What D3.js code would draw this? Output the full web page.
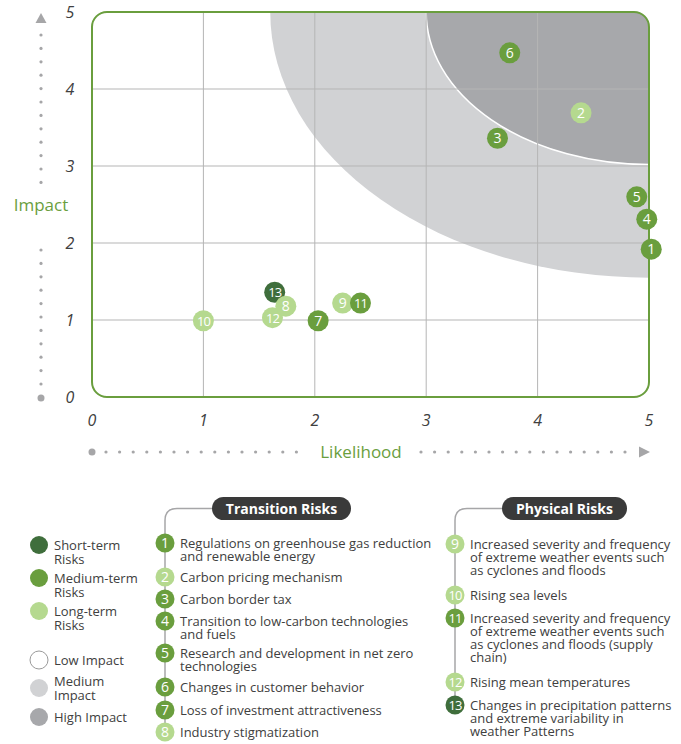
<!DOCTYPE html>
<html>
<head>
<meta charset="utf-8">
<script src="https://cdn.jsdelivr.net/npm/d3@7"></script>
<style>
  body { margin: 0; background: #fff; }
  svg text { font-family: "Open Sans", sans-serif; }
</style>
</head>
<body>
<script>
// data
var riskIds = [1, 2, 3, 4, 5, 6, 7, 8, 9, 10, 11, 12, 13],
    likelihood = [5.02, 4.39, 3.64, 4.98, 4.89, 3.75, 2.03, 1.74, 2.25, 1.0, 2.41, 1.62, 1.64],
    impact = [1.92, 3.69, 3.36, 2.31, 2.6, 4.47, 0.99, 1.18, 1.22, 0.99, 1.22, 1.03, 1.36],
    term = ['M', 'L', 'M', 'M', 'M', 'M', 'M', 'L', 'L', 'L', 'M', 'L', 'S'],
    drawOrder = [13, 12, 10, 8, 7, 9, 11, 3, 6, 2, 5, 4, 1],
    ticks = [0, 1, 2, 3, 4, 5],
    zoneRadius = { medium: [3.4, 3.45], high: [2.0, 1.98] };

var transitionLabels = [
  ['Regulations on greenhouse gas reduction', 'and renewable energy'],
  ['Carbon pricing mechanism'],
  ['Carbon border tax'],
  ['Transition to low-carbon technologies', 'and fuels'],
  ['Research and development in net zero', 'technologies'],
  ['Changes in customer behavior'],
  ['Loss of investment attractiveness'],
  ['Industry stigmatization']
];
var physicalLabels = [
  ['Increased severity and frequency', 'of extreme weather events such', 'as cyclones and floods'],
  ['Rising sea levels'],
  ['Increased severity and frequency', 'of extreme weather events such', 'as cyclones and floods (supply', 'chain)'],
  ['Rising mean temperatures'],
  ['Changes in precipitation patterns', 'and extreme variability in', 'weather Patterns']
];
var termLegend = [['S', ['Short-term', 'Risks']], ['M', ['Medium-term', 'Risks']], ['L', ['Long-term', 'Risks']]],
    impactLegend = [['low', ['Low Impact']], ['medium', ['Medium', 'Impact']], ['high', ['High Impact']]];

// style
var width = 681, height = 744,
    green = '#6a9e3e',
    termColor = { S: '#3f6e3c', M: '#6a9e3e', L: '#b5d98f' },
    impactColor = { low: '#ffffff', medium: '#d1d2d4', high: '#a7a8ab' },
    textColor = '#404040',
    dotColor = '#a6a6a8',
    fontSize = '13px';

var svg = d3.select('body').append('svg')
  .attr('width', width)
  .attr('height', height);

var x = d3.scaleLinear().domain([0, 5]).range([92, 649]),
    y = d3.scaleLinear().domain([0, 5]).range([397, 12]);

// clip to rounded plot
svg.append('clipPath').attr('id', 'plotclip')
  .append('rect')
    .attr('x', x(0)).attr('y', y(5))
    .attr('width', x(5) - x(0)).attr('height', y(0) - y(5))
    .attr('rx', 15).attr('ry', 15);

var plot = svg.append('g').attr('clip-path', 'url(#plotclip)');

// impact zones: ellipses around top-right corner
function zone(r) {
  var cx = x(5), cy = y(5), rx = x(r[0]) - x(0), ry = y(0) - y(r[1]);
  return 'M' + cx + ',' + cy + ' L' + (cx - rx) + ',' + cy +
    ' A' + rx + ',' + ry + ' 0 0 0 ' + cx + ',' + (cy + ry) + ' Z';
}
plot.append('path').attr('d', zone(zoneRadius.medium)).attr('fill', impactColor.medium);
plot.append('path').attr('d', zone(zoneRadius.high)).attr('fill', impactColor.high)
  .attr('stroke', '#fff').attr('stroke-width', 1.5);

// grid
plot.selectAll('.gx').data([1, 2, 3, 4]).enter().append('line')
  .attr('x1', d => x(d)).attr('x2', d => x(d))
  .attr('y1', y(5)).attr('y2', y(0))
  .attr('stroke', '#b5b5b5').attr('stroke-width', 1);
plot.selectAll('.gy').data([1, 2, 3, 4]).enter().append('line')
  .attr('y1', d => y(d)).attr('y2', d => y(d))
  .attr('x1', x(0)).attr('x2', x(5))
  .attr('stroke', '#b5b5b5').attr('stroke-width', 1);

// outline
svg.append('rect')
  .attr('x', x(0)).attr('y', y(5))
  .attr('width', x(5) - x(0)).attr('height', y(0) - y(5))
  .attr('rx', 15).attr('ry', 15)
  .attr('fill', 'none').attr('stroke', green).attr('stroke-width', 2);

// tick labels
svg.selectAll('.ty').data(ticks).enter().append('text')
  .attr('x', 70).attr('y', d => y(d) + 6)
  .attr('text-anchor', 'middle')
  .style('font-size', '16px').style('font-style', 'italic').attr('fill', textColor)
  .text(d => d);
svg.selectAll('.tx').data(ticks).enter().append('text')
  .attr('x', d => x(d)).attr('y', 426)
  .attr('text-anchor', 'middle')
  .style('font-size', '16px').style('font-style', 'italic').attr('fill', textColor)
  .text(d => d);

// axis titles with dotted arrows
svg.append('text').attr('x', 41).attr('y', 211).attr('text-anchor', 'middle')
  .style('font-size', '17px').attr('fill', green).text('Impact');
svg.append('text').attr('x', 361).attr('y', 458).attr('text-anchor', 'middle')
  .style('font-size', '17px').attr('fill', green).text('Likelihood');

var deco = svg.append('g').attr('fill', dotColor);
d3.range(35, 186, 13.4).concat(d3.range(250, 390, 13.4)).forEach(function(v) {
  deco.append('circle').attr('cx', 41).attr('cy', v).attr('r', 1.6);
});
deco.append('circle').attr('cx', 41).attr('cy', 398).attr('r', 3.5);
deco.append('path').attr('d', 'M35.5,23 L46.5,23 L41,13 Z');
d3.range(106, 300, 13.6).concat(d3.range(421, 630, 13.6)).forEach(function(v) {
  deco.append('circle').attr('cx', v).attr('cy', 452).attr('r', 1.6);
});
deco.append('circle').attr('cx', 92).attr('cy', 452).attr('r', 3.5);
deco.append('path').attr('d', 'M639,446.5 L639,457.5 L650,452 Z');

// risk points
var points = drawOrder.map(id => {
  var i = riskIds.indexOf(id);
  return { id: id, x: likelihood[i], y: impact[i], t: term[i] };
});
var pt = svg.selectAll('.pt').data(points).enter().append('g')
  .attr('transform', d => 'translate(' + x(d.x) + ',' + y(d.y) + ')');
pt.append('circle').attr('r', 10.5).attr('fill', d => termColor[d.t]);
pt.append('text').attr('text-anchor', 'middle').attr('y', 5)
  .attr('fill', '#fff')
  .style('font-size', d => d.id > 9 ? '13px' : '14px')
  .style('letter-spacing', d => d.id > 9 ? '-1px' : '0')
  .text(d => d.id);

// left legend
function textLines(g, lines, tx, ty, lh) {
  var t = g.append('text').attr('x', tx).attr('y', ty)
    .style('font-size', fontSize).attr('fill', textColor);
  lines.forEach(function(l, k) {
    t.append('tspan').attr('x', tx).attr('dy', k ? lh : 0).text(l);
  });
}
var termY = [545, 578, 611];
termLegend.forEach(function(d, i) {
  svg.append('circle').attr('cx', 39).attr('cy', termY[i]).attr('r', 9).attr('fill', termColor[d[0]]);
  textLines(svg, d[1], 54, termY[i] + 4.5, 14.5);
});
var impY = [660, 681, 717];
impactLegend.forEach(function(d, i) {
  var cy = d[0] === 'medium' ? 688 : impY[i];
  svg.append('circle').attr('cx', 39).attr('cy', cy).attr('r', 9)
    .attr('fill', impactColor[d[0]])
    .attr('stroke', d[0] === 'low' ? '#9a9a9a' : 'none').attr('stroke-width', 1);
  textLines(svg, d[1], 54, impY[i] + 4.5, 14.5);
});

// risk lists
function riskList(title, labels, firstId, lineX, pillX, pillW, itemY, bottom) {
  var g = svg.append('g');
  g.append('path')
    .attr('d', 'M' + pillX + ',508.5 L' + (lineX + 12) + ',508.5 Q' + lineX + ',508.5 ' + lineX + ',520.5 L' + lineX + ',' + bottom)
    .attr('fill', 'none').attr('stroke', '#a6a6a8').attr('stroke-width', 1.5);
  g.append('rect').attr('x', pillX).attr('y', 497).attr('width', pillW).attr('height', 23)
    .attr('rx', 11.5).attr('fill', '#3a3a3a');
  g.append('text').attr('x', pillX + pillW / 2).attr('y', 513.5).attr('text-anchor', 'middle')
    .style('font-size', '14px').style('font-weight', 'bold').attr('fill', '#fff').text(title);
  labels.forEach(function(lines, i) {
    var id = firstId + i, t = term[riskIds.indexOf(id)];
    g.append('circle').attr('cx', lineX).attr('cy', itemY[i]).attr('r', 9.5).attr('fill', termColor[t]);
    g.append('text').attr('x', lineX).attr('y', itemY[i] + 5).attr('text-anchor', 'middle')
      .attr('fill', '#fff')
      .style('font-size', id > 9 ? '13px' : '14px')
      .style('letter-spacing', id > 9 ? '-1px' : '0')
      .text(id);
    textLines(g, lines, lineX + 15, itemY[i] + 4.5, 13.3);
  });
}
riskList('Transition Risks', transitionLabels, 1, 165, 212, 139,
  [543, 577, 599, 621, 653, 687, 710, 732], 732);
riskList('Physical Risks', physicalLabels, 9, 455, 502, 125,
  [544, 595, 618, 682, 705], 705);
</script>
</body>
</html>
